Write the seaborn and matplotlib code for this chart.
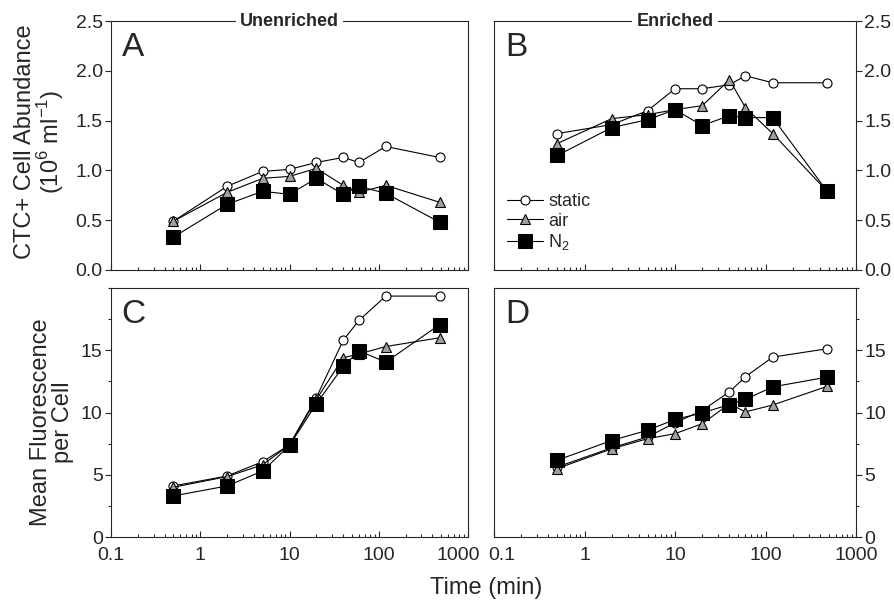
import matplotlib
matplotlib.use("Agg")
import matplotlib.pyplot as plt
import matplotlib.ticker as mticker
import matplotlib.transforms as mtransforms
import numpy as np
import pandas as pd
import seaborn as sns

# 数据
time_min = [0.5, 2, 5, 10, 20, 40, 60, 120, 480]

a_static = [0.49, 0.84, 0.99, 1.01, 1.08, 1.13, 1.08, 1.24, 1.13]
a_air = [0.49, 0.78, 0.92, 0.94, 1.02, 0.85, 0.78, 0.85, 0.68]
a_n2 = [0.33, 0.66, 0.79, 0.76, 0.92, 0.76, 0.84, 0.77, 0.48]

b_static = [1.37, 1.46, 1.60, 1.82, 1.82, 1.86, 1.95, 1.88, 1.88]
b_air = [1.27, 1.52, 1.56, 1.61, 1.65, 1.91, 1.63, 1.37, 0.79]
b_n2 = [1.15, 1.43, 1.51, 1.61, 1.45, 1.55, 1.53, 1.53, 0.79]

c_static = [4.1, 4.9, 6.05, 7.4, 11.2, 15.8, 17.4, 19.35, 19.35]
c_air = [4.0, 4.85, 5.8, 7.4, 11.05, 14.4, 14.7, 15.3, 16.0]
c_n2 = [3.3, 4.1, 5.3, 7.35, 10.7, 13.7, 14.95, 14.05, 17.05]

d_static = [5.63, 7.16, 8.04, 9.17, 10.16, 11.66, 12.87, 14.45, 15.12]
d_air = [5.5, 7.08, 7.9, 8.3, 9.1, 10.7, 10.05, 10.6, 12.1]
d_n2 = [6.17, 7.75, 8.58, 9.44, 9.97, 10.64, 11.05, 12.06, 12.84]

series_names = ["static", "air", "N$_2$"]
panel_letters = ["A", "B", "C", "D"]
group_titles = ["Unenriched", "Enriched"]
xtick_vals = [0.1, 1, 10, 100, 1000]
xtick_labels = ["0.1", "1", "10", "100", "1000"]


def make_df(static, air, n2):
    frames = []
    for name, vals in zip(series_names, [static, air, n2]):
        frames.append(pd.DataFrame({"time": time_min, "value": vals, "series": name}))
    return pd.concat(frames, ignore_index=True)


panels = [make_df(a_static, a_air, a_n2), make_df(b_static, b_air, b_n2),
          make_df(c_static, c_air, c_n2), make_df(d_static, d_air, d_n2)]

sns.set_theme(style="ticks")
plt.rcParams["font.family"] = ["Liberation Sans", "DejaVu Sans"]
plt.rcParams["mathtext.fontset"] = "custom"
plt.rcParams["mathtext.rm"] = "Liberation Sans"

fig = plt.figure(figsize=(8.94, 6.03), dpi=100)
W, H = 894, 603


def rect(l, r, t, b):
    return [l / W, 1 - b / H, (r - l) / W, (b - t) / H]


axes = [fig.add_axes(rect(111, 468, 21, 270)), fig.add_axes(rect(494, 856, 21, 270)),
        fig.add_axes(rect(111, 468, 288, 537)), fig.add_axes(rect(494, 856, 288, 537))]

styles = {
    "static": dict(marker="o", markersize=6.5, markerfacecolor="white", markeredgecolor="black", markeredgewidth=0.8),
    "air": dict(marker="^", markersize=6.5, markerfacecolor="#a0a0a0", markeredgecolor="black", markeredgewidth=0.8),
    "N$_2$": dict(marker="s", markersize=10.5, markerfacecolor="black", markeredgecolor="black"),
}

for i, (ax, df) in enumerate(zip(axes, panels)):
    for name in series_names:
        sub = df[df["series"] == name]
        sns.lineplot(data=sub, x="time", y="value", ax=ax, color="black", linewidth=0.8,
                     label=name, legend=False, **styles[name])
    ax.set_xscale("log")
    ax.set_xlim(0.1, 1000)
    ax.set_xlabel("")
    ax.set_ylabel("")
    for s in ax.spines.values():
        s.set_linewidth(0.8)
        s.set_visible(True)
    ax.tick_params(axis="x", which="both", direction="in", length=4, width=0.8, labelsize=14)
    ax.tick_params(axis="x", which="minor", length=2.5)
    ax.tick_params(axis="y", which="both", direction="out", length=4, width=0.8, labelsize=14, pad=2)
    ax.tick_params(axis="y", which="minor", length=2.5)
    if i < 2:
        ax.set_ylim(0, 2.5)
        ax.yaxis.set_major_locator(mticker.MultipleLocator(0.5))
        ax.yaxis.set_major_formatter(mticker.FormatStrFormatter("%.1f"))
        ax.set_xticklabels([])
        ax.text(0.5, 1.0, group_titles[i], transform=ax.transAxes, ha="center", va="center",
                fontsize=13, fontweight="bold", zorder=5, clip_on=False,
                bbox=dict(facecolor="white", edgecolor="none", pad=3))
    else:
        ax.set_ylim(0, 20)
        ax.set_yticks([0, 5, 10, 15])
        ax.yaxis.set_minor_locator(mticker.MultipleLocator(2.5))
        ax.set_xticks(xtick_vals)
        ax.set_xticklabels(xtick_labels)
        ax.tick_params(axis="x", pad=7)
    if i % 2 == 1:
        ax.yaxis.tick_right()
    ax.text(0.03, 0.955, panel_letters[i], transform=ax.transAxes, ha="left", va="top", fontsize=24)

# 1000 与 0.1 标签错开
lab_c = axes[2].get_xticklabels()[-1]
lab_c.set_transform(lab_c.get_transform() + mtransforms.ScaledTranslation(-10 / 100, 0, fig.dpi_scale_trans))
lab_d = axes[3].get_xticklabels()[0]
lab_d.set_transform(lab_d.get_transform() + mtransforms.ScaledTranslation(8 / 100, 0, fig.dpi_scale_trans))

axes[1].legend(loc="lower left", frameon=False, fontsize=13, handlelength=2.0,
               handletextpad=0.3, labelspacing=0.15, borderaxespad=0.3, bbox_to_anchor=(0.0, 0.02))

fig.text(40 / W, 1 - 142 / H, "CTC+ Cell Abundance\n(10$^6$ ml$^{-1}$)", rotation=90,
         ha="center", va="center", fontsize=17, linespacing=1.0)
fig.text(52 / W, 1 - 422 / H, "Mean Fluorescence\nper Cell", rotation=90,
         ha="center", va="center", fontsize=17, linespacing=1.0)
fig.text(486 / W, 1 - 588 / H, "Time (min)", ha="center", va="center", fontsize=17)

fig.savefig("out.png", dpi=100)
